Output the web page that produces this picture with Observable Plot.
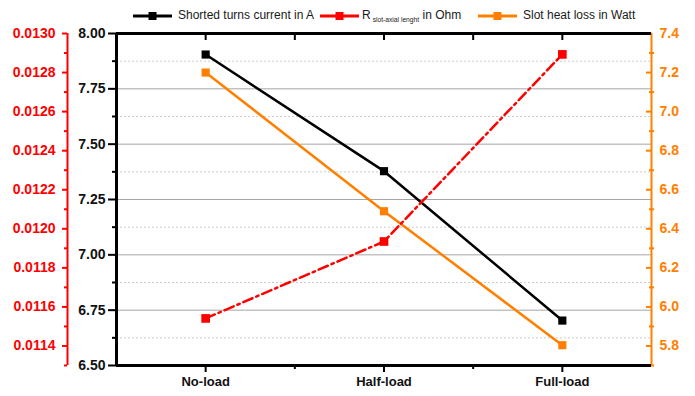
<!DOCTYPE html>
<html>
<head>
<meta charset="utf-8">
<script src="https://cdn.jsdelivr.net/npm/d3@7"></script>
<script src="https://cdn.jsdelivr.net/npm/@observablehq/plot@0.6"></script>
<style>
  body { margin: 0; background: #fff; }
  #wrap { position: relative; width: 695px; height: 396px; font-family: "Liberation Sans", Arial, sans-serif; }
  #legend { position: absolute; top: 0; left: 0; width: 695px; height: 30px; font-size: 12px; color: #1a1a1a; }
  #legend .it { position: absolute; top: 8px; white-space: nowrap; line-height: 14px; }
  #legend svg { position: absolute; top: 10px; }
  #legend sub { font-size: 6.7px; vertical-align: -3px; margin-left: 2px; }
</style>
</head>
<body>
<div id="wrap"><div id="legend"></div></div>
<script>
// ---- data ----
const categories = ["No-load", "Half-load", "Full-load"];
const currentA = [7.905, 7.378, 6.703];            // Shorted turns current in A (left black axis)
const resistanceOhm = [0.011541, 0.011935, 0.012893]; // R slot-axial lenght in Ohm (left red axis)
const heatLossW = [7.20, 6.49, 5.804];             // Slot heat loss in Watt (right orange axis)

// ---- tick labels ----
const currentTicks = [6.50, 6.75, 7.00, 7.25, 7.50, 7.75, 8.00];
const currentMinor = [6.625, 6.875, 7.125, 7.375, 7.625, 7.875];
const ohmTicks = [0.0114, 0.0116, 0.0118, 0.0120, 0.0122, 0.0124, 0.0126, 0.0128, 0.0130];
const ohmMinor = [0.0113, 0.0115, 0.0117, 0.0119, 0.0121, 0.0123, 0.0125, 0.0127, 0.0129];
const wattTicks = [5.8, 6.0, 6.2, 6.4, 6.6, 6.8, 7.0, 7.2, 7.4];
const wattMinor = [5.7, 5.9, 6.1, 6.3, 6.5, 6.7, 6.9, 7.1, 7.3];

const currentDomain = [6.5, 8.0];
const ohmDomain = [0.0113, 0.0130];
const wattDomain = [5.7, 7.4];

const RED = "#ff0000", ORANGE = "#ff8000", BLACK = "#000000";

// map secondary axes onto the primary y scale
const ohmMap = d3.scaleLinear().domain(ohmDomain).range(currentDomain);
const wattMap = d3.scaleLinear().domain(wattDomain).range(currentDomain);

const rows = categories.map((c, i) => ({
  x: i + 1,
  cur: currentA[i],
  ohm: ohmMap(resistanceOhm[i]),
  watt: wattMap(heatLossW[i])
}));

const fmt2 = d3.format(".2f"), fmt4 = d3.format(".4f"), fmt1 = d3.format(".1f");

const chart = Plot.plot({
  width: 695, height: 396,
  marginTop: 33, marginBottom: 31, marginLeft: 116, marginRight: 44,
  x: { type: "linear", domain: [0.5, 3.5] },
  y: { domain: currentDomain },
  style: { fontFamily: "'Liberation Sans', Arial, sans-serif", background: "transparent", overflow: "visible" },
  marks: [
    // grid
    Plot.gridY(currentMinor, { stroke: "#cccccc", strokeOpacity: 1, strokeDasharray: "2,2" }),
    Plot.gridY(currentTicks.slice(1, -1), { stroke: "#a6a6a6", strokeOpacity: 1 }),

    // left black axis
    Plot.axisY({ ticks: currentTicks, tickSize: 8, tickPadding: 3, tickFormat: fmt2, fontSize: 14, fontWeight: "bold", fill: "#111", stroke: BLACK, strokeWidth: 2, label: null }),
    Plot.axisY({ ticks: currentMinor, tickSize: 4, fill: "none", stroke: BLACK, strokeWidth: 2, label: null }),

    // left red axis (offset outward)
    Plot.ruleX([0.5], { dx: -49, stroke: RED, strokeWidth: 2 }),
    Plot.axisY({ ticks: ohmTicks.map(ohmMap), dx: -49, tickSize: 5, tickPadding: 7, tickFormat: d => fmt4(ohmMap.invert(d)), fontSize: 14, fontWeight: "bold", fill: RED, stroke: RED, strokeWidth: 2, label: null }),
    Plot.axisY({ ticks: ohmMinor.map(ohmMap), dx: -49, tickSize: 3, fill: "none", stroke: RED, strokeWidth: 2, label: null }),

    // right orange axis
    Plot.ruleX([3.5], { stroke: ORANGE, strokeWidth: 2 }),
    Plot.axisY({ anchor: "right", ticks: wattTicks.map(wattMap), dx: -6, tickSize: 6, fill: "none", stroke: ORANGE, strokeWidth: 2, label: null }),
    Plot.axisY({ anchor: "right", ticks: wattMinor.map(wattMap), dx: -3, tickSize: 5, fill: "none", stroke: ORANGE, strokeWidth: 2, label: null }),
    Plot.axisY({ anchor: "right", ticks: wattTicks.map(wattMap), tickSize: 0, tickPadding: 8, tickFormat: d => fmt1(wattMap.invert(d)), fontSize: 14, fontWeight: "bold", fill: ORANGE, label: null }),

    // x axis (bottom, outward ticks)
    Plot.axisX({ ticks: [1, 2, 3], tickSize: 7, tickPadding: 4, tickFormat: d => categories[d - 1], fontSize: 13, fontWeight: "bold", fill: "#111", stroke: BLACK, strokeWidth: 2, label: null }),
    Plot.axisX({ ticks: [1.5, 2.5], tickSize: 4, fill: "none", stroke: BLACK, strokeWidth: 2, label: null }),
    // top ticks (inward)
    Plot.axisX({ anchor: "top", ticks: [1, 1.5, 2, 2.5, 3], tickSize: 6, dy: 6, fill: "none", stroke: BLACK, strokeWidth: 2, label: null }),

    // frame lines
    Plot.ruleY([8.0], { stroke: BLACK, strokeWidth: 3 }),
    Plot.ruleY([6.5], { stroke: BLACK, strokeWidth: 3 }),
    Plot.ruleX([0.5], { stroke: BLACK, strokeWidth: 3 }),

    // series
    Plot.line(rows, { x: "x", y: "cur", stroke: BLACK, strokeWidth: 2.5 }),
    Plot.line(rows, { x: "x", y: "watt", stroke: ORANGE, strokeWidth: 2.5 }),
    Plot.line(rows, { x: "x", y: "ohm", stroke: RED, strokeWidth: 2.5, strokeDasharray: "10,4,2.5,4" }),
    Plot.dot(rows, { x: "x", y: "cur", symbol: "square", fill: BLACK, r: 4.6 }),
    Plot.dot(rows, { x: "x", y: "watt", symbol: "square", fill: ORANGE, r: 4.6 }),
    Plot.dot(rows, { x: "x", y: "ohm", symbol: "square", fill: RED, r: 4.9 })
  ]
});
chart.style.position = "absolute";
chart.style.left = "0";
chart.style.top = "0";
document.getElementById("wrap").appendChild(chart);

// ---- legend ----
const legend = document.getElementById("legend");
function swatch(left, color) {
  const ns = "http://www.w3.org/2000/svg";
  const s = document.createElementNS(ns, "svg");
  s.setAttribute("width", 39); s.setAttribute("height", 12);
  s.style.left = left + "px";
  const l = document.createElementNS(ns, "line");
  l.setAttribute("x1", 0); l.setAttribute("x2", 39); l.setAttribute("y1", 6); l.setAttribute("y2", 6);
  l.setAttribute("stroke", color); l.setAttribute("stroke-width", 3);
  const r = document.createElementNS(ns, "rect");
  r.setAttribute("x", 15.5); r.setAttribute("y", 2); r.setAttribute("width", 8); r.setAttribute("height", 8);
  r.setAttribute("fill", color);
  s.appendChild(l); s.appendChild(r);
  legend.appendChild(s);
}
function label(left, html) {
  const d = document.createElement("div");
  d.className = "it"; d.style.left = left + "px"; d.innerHTML = html;
  legend.appendChild(d);
}
swatch(133, BLACK);  label(178, "Shorted turns current in A");
swatch(320, RED);    label(362, "R<sub>slot-axial lenght</sub> in Ohm");
swatch(478, ORANGE); label(523, "Slot heat loss in Watt");
</script>
</body>
</html>
